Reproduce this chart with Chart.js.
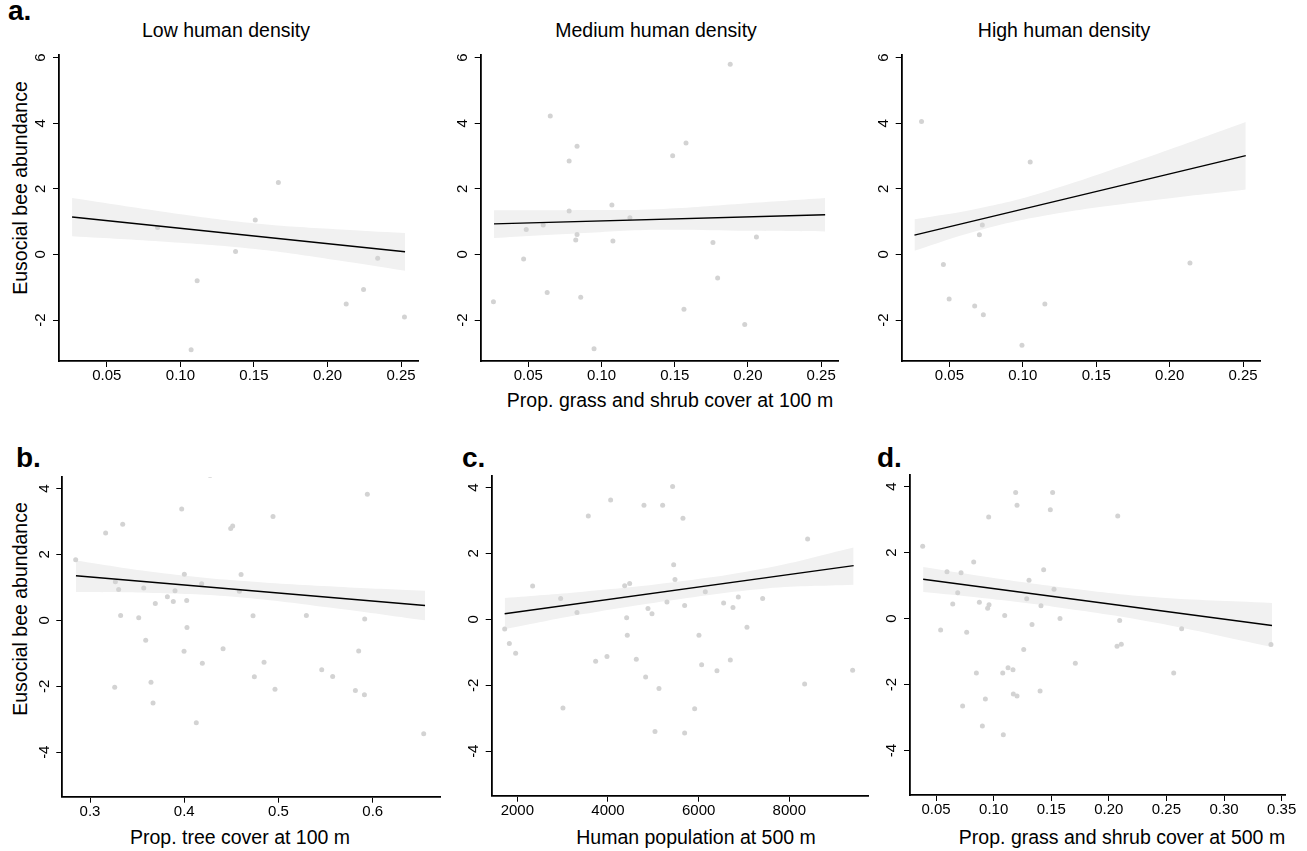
<!DOCTYPE html>
<html><head><meta charset="utf-8">
<script src="https://cdn.jsdelivr.net/npm/chart.js@4.4.1/dist/chart.umd.min.js"></script>
<style>
html,body{margin:0;padding:0;background:#fff;}
#wrap{position:relative;width:1307px;height:851px;overflow:hidden;font-family:"Liberation Sans",Arial,sans-serif;color:#000;}
canvas{position:absolute;}
.t{position:absolute;white-space:nowrap;line-height:1;font-size:19.5px;transform:translateX(-50%);}
.lab{position:absolute;font-weight:bold;font-size:28px;line-height:1;}
.yt{position:absolute;white-space:nowrap;line-height:1;font-size:19.5px;transform:translate(-50%,-50%) rotate(-90deg);}
</style></head>
<body>
<div id="wrap">
  <div class="lab" style="left:8px;top:-3px;">a.</div>
  <div class="lab" style="left:16px;top:444px;">b.</div>
  <div class="lab" style="left:462px;top:444px;">c.</div>
  <div class="lab" style="left:877px;top:444px;">d.</div>
  <div class="t" style="left:226px;top:21px;">Low human density</div>
  <div class="t" style="left:656px;top:21px;">Medium human density</div>
  <div class="t" style="left:1064px;top:21px;">High human density</div>
  <div class="t" style="left:670px;top:391px;">Prop. grass and shrub cover at 100 m</div>
  <div class="t" style="left:240px;top:828px;">Prop. tree cover at 100 m</div>
  <div class="t" style="left:696px;top:828px;">Human population at 500 m</div>
  <div class="t" style="left:1122px;top:828px;">Prop. grass and shrub cover at 500 m</div>
  <div class="yt" style="left:21px;top:188px;">Eusocial bee abundance</div>
  <div class="yt" style="left:21px;top:609px;">Eusocial bee abundance</div>
</div>
<script>
// ---------- tick labels ----------
const topXTicks = [0.05, 0.10, 0.15, 0.20, 0.25];
const topYTicks = [-2, 0, 2, 4, 6];
const treeXTicks = [0.3, 0.4, 0.5, 0.6];
const popXTicks = [2000, 4000, 6000, 8000];
const grass500XTicks = [0.05, 0.10, 0.15, 0.20, 0.25, 0.30, 0.35];
const bottomYTicks = [-4, -2, 0, 2, 4];

// ---------- a. low human density ----------
const lowX = [0.0845, 0.1114, 0.1073, 0.1375, 0.1509, 0.1666, 0.2127, 0.2245, 0.2341, 0.2523];
const lowY = [0.82, -0.80, -2.91, 0.09, 1.05, 2.19, -1.51, -1.07, -0.12, -1.91];
const lowFitX = [0.0264, 0.2527];
const lowFitY = [1.14, 0.08];
const lowBandX = [0.0264, 0.092, 0.151, 0.2055, 0.2527];
const lowBandUp = [1.72, 1.28, 0.945, 0.77, 0.655];
const lowBandLo = [0.555, 0.38, 0.165, -0.17, -0.495];

// ---------- a. medium human density ----------
const medX = [0.0262, 0.0468, 0.0486, 0.0602, 0.0629, 0.0650, 0.0779, 0.0779, 0.0824, 0.0833, 0.0833, 0.0858,
  0.0949, 0.1071, 0.1078, 0.1194, 0.1486, 0.1563, 0.1577, 0.1761, 0.1793, 0.1879, 0.1978, 0.2058];
const medY = [-1.44, -0.14, 0.76, 0.90, -1.16, 4.22, 2.85, 1.32, 0.44, 0.61, 3.30, -1.31,
  -2.88, 1.51, 0.41, 1.12, 3.01, -1.67, 3.40, 0.36, -0.72, 5.80, -2.14, 0.53];
const medFitX = [0.0266, 0.2527];
const medFitY = [0.93, 1.21];
const medBandX = [0.0266, 0.08, 0.138, 0.2, 0.2527];
const medBandUp = [1.35, 1.35, 1.38, 1.56, 1.72];
const medBandLo = [0.50, 0.63, 0.75, 0.72, 0.70];

// ---------- a. high human density ----------
const highX = [0.031, 0.0459, 0.0498, 0.0672, 0.0704, 0.0724, 0.0731, 0.0994, 0.105, 0.115, 0.2138];
const highY = [4.05, -0.31, -1.36, -1.57, 0.60, 0.90, -1.84, -2.77, 2.82, -1.51, -0.26];
const highFitX = [0.0262, 0.2518];
const highFitY = [0.59, 3.01];
const highBandX = [0.0262, 0.068, 0.1134, 0.1814, 0.2518];
const highBandUp = [1.07, 1.385, 1.89, 2.91, 4.04];
const highBandLo = [0.11, 0.705, 1.17, 1.61, 1.98];

// ---------- b. tree cover ----------
const treeX = [0.2848, 0.3166, 0.3269, 0.3262, 0.3304, 0.3325, 0.3347, 0.3517, 0.3570, 0.3591, 0.3647, 0.3669,
  0.3693, 0.3821, 0.3884, 0.3902, 0.3973, 0.3998, 0.4001, 0.4026, 0.4029, 0.4128, 0.4185, 0.4192, 0.4274,
  0.4412, 0.4493, 0.4514, 0.4585, 0.4603, 0.4730, 0.4744, 0.4847, 0.4942, 0.4963, 0.5296, 0.5459, 0.5575,
  0.5816, 0.5851, 0.5915, 0.5912, 0.5943, 0.6541];
const treeY = [1.84, 2.65, 1.17, -2.03, 0.94, 0.15, 2.92, 0.08, 0.98, -0.60, -1.88, -2.51,
  0.51, 0.72, 0.57, 0.90, 3.38, -0.94, 1.40, 0.60, -0.22, -3.11, 1.11, -1.30, 4.40,
  -0.86, 2.79, 2.86, 0.88, 1.39, 0.14, -1.71, -1.27, 3.15, -2.09, 0.15, -1.50, -1.70,
  -2.13, -0.93, 0.04, -2.26, 3.83, -3.44];
const treeFitX = [0.2851, 0.6555];
const treeFitY = [1.355, 0.45];
const treeBandX = [0.2851, 0.3672, 0.4557, 0.5619, 0.6555];
const treeBandUp = [1.82, 1.47, 1.21, 1.02, 0.90];
const treeBandLo = [0.86, 0.83, 0.71, 0.36, 0.0];

// ---------- c. human population ----------
const popX = [1721, 1824, 1963, 2338, 2956, 3007, 3316, 3566, 3728, 3978, 4059, 4368, 4412, 4426, 4478, 4625,
  4794, 4831, 4882, 4971, 5037, 5125, 5206, 5301, 5426, 5449, 5478, 5654, 5691, 5691, 5912, 6007, 6066, 6147,
  6404, 6551, 6699, 6757, 6875, 7066, 7412, 8338, 8404, 9397];
const popY = [-0.29, -0.73, -1.03, 1.01, 0.63, -2.69, 0.21, 3.14, -1.27, -1.13, 3.62, 1.02, 0.05, -0.48, 1.09, -1.21,
  3.46, -1.75, 0.33, 0.17, -3.40, -2.10, 3.46, 0.53, 4.03, 1.66, 1.21, 3.07, 0.42, -3.45, -2.71, -0.48, -1.38, 0.84,
  -1.56, 0.50, -1.23, 0.36, 0.68, -0.24, 0.63, -1.96, 2.44, -1.54];
const popFitX = [1721, 9419];
const popFitY = [0.17, 1.63];
const popBandX = [1721, 3456, 5296, 7502, 9419];
const popBandUp = [0.65, 0.84, 1.10, 1.56, 2.18];
const popBandLo = [-0.30, 0.16, 0.56, 0.94, 1.05];

// ---------- d. grass and shrub cover at 500 m ----------
const grassX = [0.0384, 0.0540, 0.0595, 0.0645, 0.0688, 0.0717, 0.0731, 0.0766, 0.0827, 0.0850, 0.0876, 0.0902,
  0.0928, 0.0948, 0.0960, 0.0957, 0.1079, 0.1084, 0.1096, 0.1125, 0.1168, 0.1171, 0.1191, 0.1203, 0.1203,
  0.1261, 0.1287, 0.1307, 0.1333, 0.1403, 0.1411, 0.1434, 0.1492, 0.1512, 0.1524, 0.1576, 0.1709, 0.2071,
  0.2077, 0.2094, 0.2108, 0.2563, 0.2632, 0.3407];
const grassY = [2.19, -0.35, 1.42, 0.44, 0.78, 1.39, -2.65, -0.42, 1.71, -1.65, 0.49, -3.26,
  -2.44, 0.31, 0.42, 3.08, -1.65, -3.52, 0.09, -1.49, -1.55, -2.29, 3.82, -2.35, 3.43,
  -0.94, 0.60, 1.16, -0.18, -2.20, 0.39, 1.48, 3.30, 3.82, 0.89, 0.0, -1.36, -0.84,
  3.11, -0.06, -0.78, -1.65, -0.31, -0.79];
const grassFitX = [0.0388, 0.3416];
const grassFitY = [1.19, -0.21];
const grassBandX = [0.0388, 0.09, 0.1517, 0.2385, 0.3416];
const grassBandUp = [1.56, 1.28, 0.98, 0.65, 0.47];
const grassBandLo = [0.80, 0.62, 0.36, -0.11, -0.86];

// ---------- drawing ----------
const FONT = '"Liberation Sans", Arial, sans-serif';
const fmt2 = v => v.toFixed(2);
const fmt1 = v => v.toFixed(1);
const fmtInt = v => String(Math.round(v));
const fmtY = v => (v < 0 ? '-' + Math.abs(v) : String(v));
const xy = (xs, ys) => xs.map((x, i) => ({ x: x, y: ys[i] }));

function panel(area, xr, yr, xTicks, yTicks, xFmt, px, py, fx, fy, bx, bu, bl, yPad) {
  const cl = Math.floor(area.l - 55), ct = Math.floor(area.t - 12);
  const cw = Math.ceil(area.r + 22) - cl, ch = Math.ceil(area.b + 45) - ct;
  const YW = area.l - cl, PT = area.t - ct, PR = cl + cw - area.r, XH = ct + ch - area.b;
  const c = document.createElement('canvas');
  c.width = cw; c.height = ch;
  c.style.left = cl + 'px'; c.style.top = ct + 'px';
  c.style.width = cw + 'px'; c.style.height = ch + 'px';
  document.getElementById('wrap').appendChild(c);
  const axisCommon = {
    grid: { display: true, drawOnChartArea: false, drawTicks: true, tickLength: 6, color: '#000', lineWidth: 1 },
    border: { display: true, color: '#000', width: 1.8 }
  };
  new Chart(c, {
    type: 'scatter',
    data: { datasets: [
      { type: 'line', data: xy(bx, bu), borderWidth: 0, pointRadius: 0, fill: '+1', backgroundColor: '#f1f1f1', tension: 0.4, order: 3 },
      { type: 'line', data: xy(bx, bl), borderWidth: 0, pointRadius: 0, fill: false, tension: 0.4, order: 3 },
      { type: 'scatter', data: xy(px, py), pointRadius: 2.5, backgroundColor: '#d3d3d3', borderWidth: 0, order: 2 },
      { type: 'line', data: xy(fx, fy), borderColor: '#000', borderWidth: 1.4, pointRadius: 0, fill: false, order: 1 }
    ]},
    options: {
      responsive: false, animation: false, devicePixelRatio: 1,
      layout: { padding: { top: PT, right: PR, left: 0, bottom: 0 } },
      plugins: { legend: { display: false }, tooltip: { enabled: false } },
      scales: {
        x: Object.assign({}, axisCommon, {
          type: 'linear', min: xr[0], max: xr[1],
          afterBuildTicks: s => { s.ticks = xTicks.map(v => ({ value: v })); },
          afterFit: s => { s.height = XH; },
          ticks: { font: { family: FONT, size: 15 }, color: '#000', padding: 0, maxRotation: 0, autoSkip: false,
                   callback: v => xFmt(v) }
        }),
        y: Object.assign({}, axisCommon, {
          type: 'linear', min: yr[0], max: yr[1],
          afterBuildTicks: s => { s.ticks = yTicks.map(v => ({ value: v })); },
          afterFit: s => { s.width = YW; },
          ticks: { font: { family: FONT, size: 15 }, color: '#000', padding: yPad, minRotation: 90, maxRotation: 90,
                   crossAlign: 'center', autoSkip: false, callback: v => fmtY(v) }
        })
      }
    }
  });
}

const topYR = [-3.25, 6.08];
const topXR = [0.0175, 0.2615];
const botYR = [-5.35, 4.35];

panel({ l: 59, t: 53, r: 418, b: 361 }, topXR, topYR, topXTicks, topYTicks, fmt2,
  lowX, lowY, lowFitX, lowFitY, lowBandX, lowBandUp, lowBandLo, 5);
panel({ l: 480.7, t: 53, r: 838, b: 361 }, topXR, topYR, topXTicks, topYTicks, fmt2,
  medX, medY, medFitX, medFitY, medBandX, medBandUp, medBandLo, 5);
panel({ l: 901.7, t: 53, r: 1260, b: 361 }, topXR, topYR, topXTicks, topYTicks, fmt2,
  highX, highY, highFitX, highFitY, highBandX, highBandUp, highBandLo, 5);
panel({ l: 62.3, t: 475, r: 440, b: 796.7 }, [0.2706, 0.6714], botYR, treeXTicks, bottomYTicks, fmt1,
  treeX, treeY, treeFitX, treeFitY, treeBandX, treeBandUp, treeBandLo, 5);
panel({ l: 491.7, t: 474, r: 868, b: 795.7 }, [1435, 9736], botYR, popXTicks, bottomYTicks, fmtInt,
  popX, popY, popFitX, popFitY, popBandX, popBandUp, popBandLo, 5);
panel({ l: 910, t: 473, r: 1285, b: 795 }, [0.0274, 0.3529], botYR, grass500XTicks, bottomYTicks, fmt2,
  grassX, grassY, grassFitX, grassFitY, grassBandX, grassBandUp, grassBandLo, 5);
</script>
</body></html>
